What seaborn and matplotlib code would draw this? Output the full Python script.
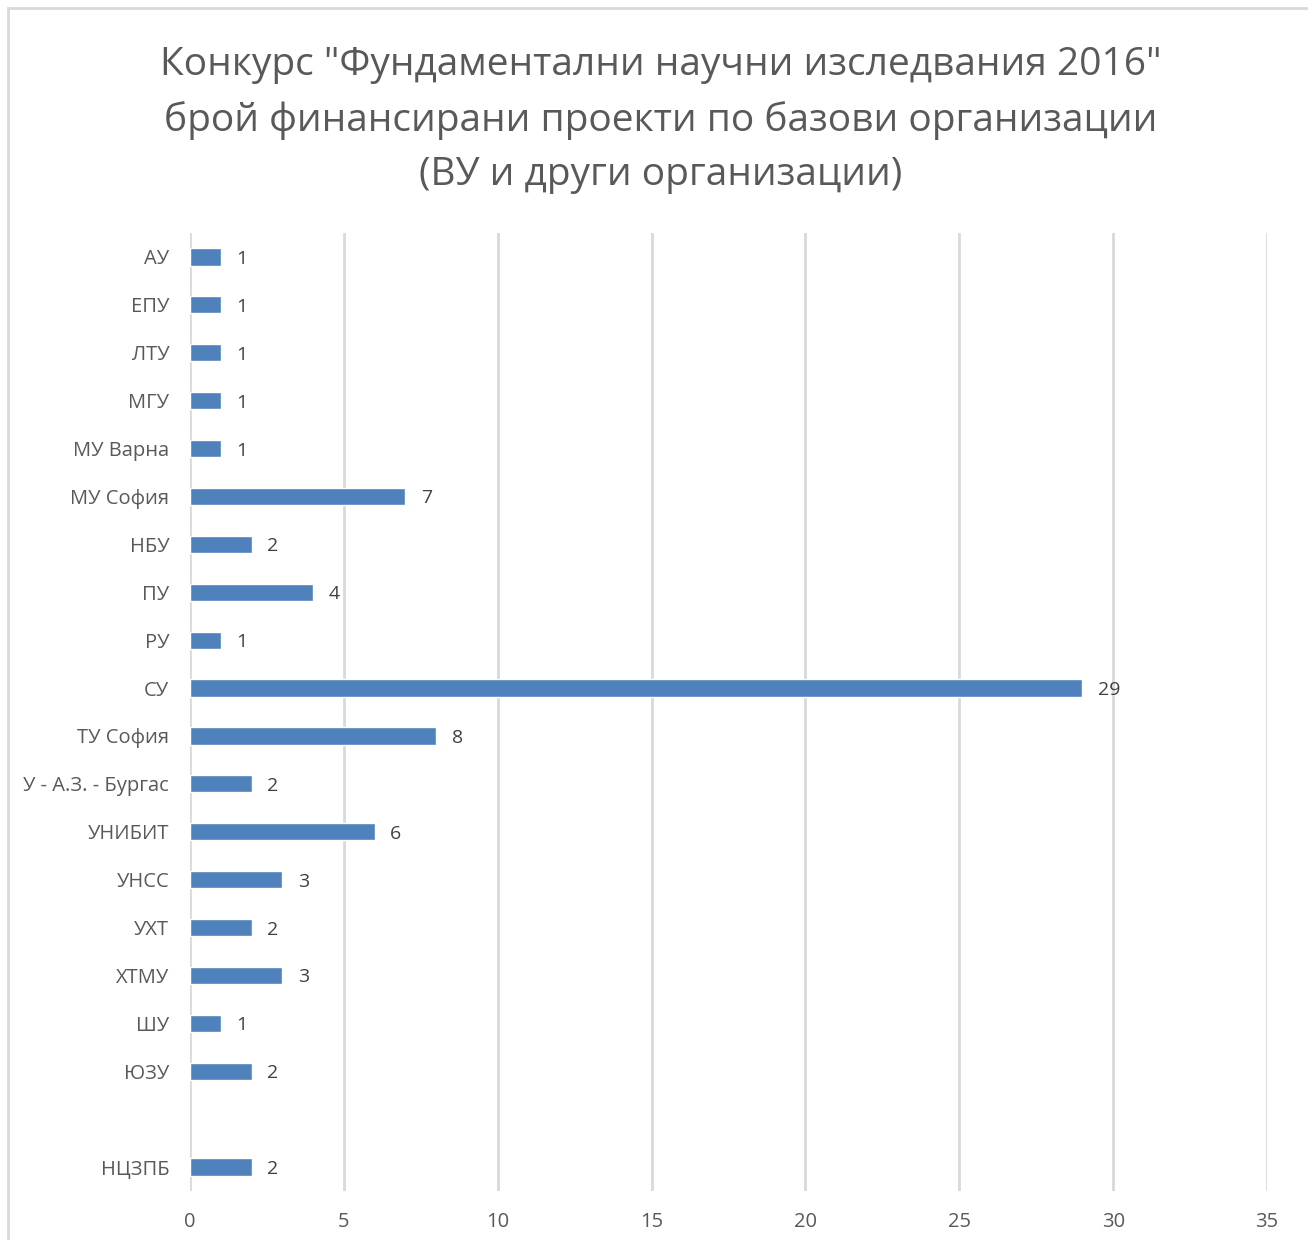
import matplotlib
matplotlib.use("Agg")
import matplotlib.pyplot as plt
import seaborn as sns
import pandas as pd
from matplotlib.patches import Rectangle

sns.set_theme(style="white")
plt.rcParams['font.family'] = ['Open Sans', 'DejaVu Sans']

orgs = ['АУ', 'ЕПУ', 'ЛТУ', 'МГУ', 'МУ Варна', 'МУ София', 'НБУ', 'ПУ', 'РУ', 'СУ',
        'ТУ София', 'У - А.З. - Бургас', 'УНИБИТ', 'УНСС', 'УХТ', 'ХТМУ', 'ШУ', 'ЮЗУ', 'НЦЗПБ']
projects = [1, 1, 1, 1, 1, 7, 2, 4, 1, 29, 8, 2, 6, 3, 2, 3, 1, 2, 2]
# empty slot between ЮЗУ and НЦЗПБ
order = orgs[:-1] + [' '] + orgs[-1:]

title = 'Конкурс "Фундаментални научни изследвания 2016"\nброй финансирани проекти по базови организации\n(ВУ и други организации)'

df = pd.DataFrame({'org': orgs, 'n': projects})

fig = plt.figure(figsize=(13.08, 12.4), dpi=100)
ax = fig.add_axes([0.1453, 0.0395, 0.8234, 0.7726])

sns.barplot(data=df, y='org', x='n', order=order, color='#4F81BD', saturation=1,
            width=0.36, ax=ax)

for c in ax.containers:
    labels = ax.bar_label(c, padding=11, fontsize=14, color='#404040')
    for t in labels:
        t.set_va('center_baseline')

ax.set_xlim(0, 35)
ax.set_xticks(range(0, 36, 5))
ax.xaxis.grid(True, color='#D9D9D9', linewidth=2)
ax.yaxis.grid(False)
ax.set_axisbelow(True)
for s in ax.spines.values():
    s.set_visible(False)
ax.tick_params(axis='both', length=0, labelsize=14.5, labelcolor='#595959')
ax.tick_params(axis='x', pad=15)
ax.tick_params(axis='y', pad=15)
ax.set_xlabel('')
ax.set_ylabel('')

fig.text(0.505, 0.9625, title, ha='center', va='top', fontsize=28, color='#595959',
         linespacing=1.55)

# chart border
fig.patches.append(Rectangle((8 / 1308, -0.1), 1.2, 1 - 8 / 1240 + 0.1, transform=fig.transFigure,
                             fill=False, edgecolor='#D9D9D9', linewidth=2))

fig.savefig('out.png', dpi=100)
